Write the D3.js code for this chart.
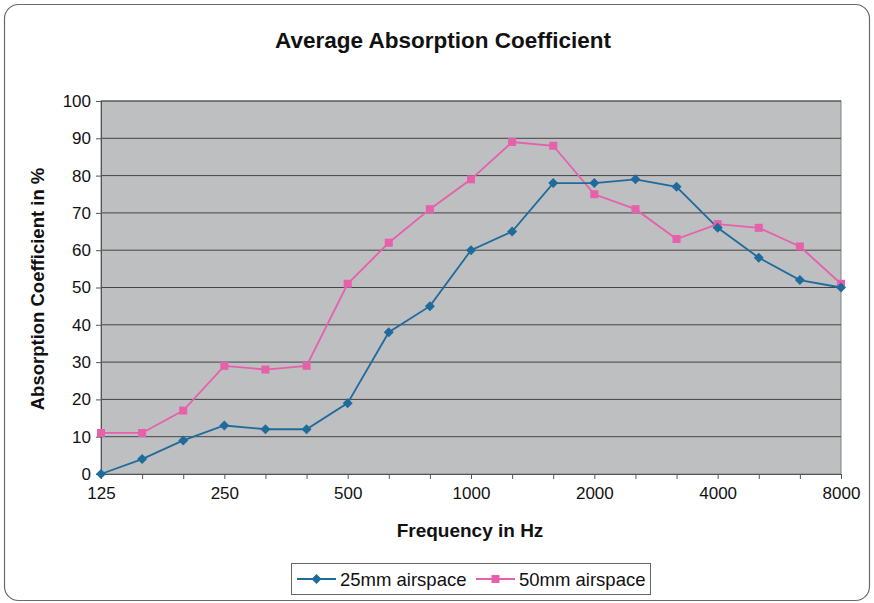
<!DOCTYPE html>
<html><head><meta charset="utf-8">
<script src="https://cdn.jsdelivr.net/npm/d3@7"></script>
<style>body{margin:0;background:#fff;font-family:Arial,"Liberation Sans",sans-serif;}</style>
</head><body><svg id="c" width="874" height="603"></svg>
<script>
const frequencies = ["125","160","200","250","315","400","500","630","800","1000","1250","1600","2000","2500","3150","4000","5000","6300","8000"];
const tickLabels = ["125","250","500","1000","2000","4000","8000"];
const airspace25 = [0,4,9,13,12,12,19,38,45,60,65,78,78,79,77,66,58,52,50];
const airspace50 = [11,11,17,29,28,29,51,62,71,79,89,88,75,71,63,67,66,61,51];
const yTicks = [0,10,20,30,40,50,60,70,80,90,100];

const svg = d3.select("#c");
const F = "Arial,'Liberation Sans',sans-serif";
const L=101,R=841,T=101,B=474;
svg.append("rect").attr("x",4.5).attr("y",4.5).attr("width",865).attr("height",596).attr("rx",14)
  .attr("fill","#fff").attr("stroke","#6a6a6a").attr("stroke-width",1.2);

const x = d3.scalePoint().domain(frequencies).range([L,R]);
const y = d3.scaleLinear().domain([0,100]).range([B,T]);

svg.append("rect").attr("x",L).attr("y",T).attr("width",R-L).attr("height",B-T).attr("fill","#bdbfc0").attr("stroke","#808080");
svg.append("g").selectAll("line").data(yTicks.slice(1)).join("line")
  .attr("x1",L).attr("x2",R).attr("y1",d=>y(d)).attr("y2",d=>y(d)).attr("stroke","#444").attr("stroke-width",1);

const yAxis = d3.axisLeft(y).tickValues(yTicks).tickSize(5).tickPadding(5);
const gy = svg.append("g").attr("transform",`translate(${L},0)`).call(yAxis);
gy.selectAll("text").attr("font-size",17).attr("font-family",F).attr("fill","#111");
gy.selectAll("line,path").attr("stroke","#555");

const xAxis = d3.axisBottom(x).tickSize(5).tickPadding(8).tickFormat(d=>tickLabels.includes(d)?d:"");
const gx = svg.append("g").attr("transform",`translate(0,${B})`).call(xAxis);
gx.selectAll("text").attr("font-size",17).attr("font-family",F).attr("fill","#111");
gx.selectAll("line,path").attr("stroke","#555");

svg.append("text").attr("x",443).attr("y",48).attr("text-anchor","middle").attr("font-weight","bold").attr("font-size",22.5).attr("font-family",F).attr("fill","#111").text("Average Absorption Coefficient");
svg.append("text").attr("x",470).attr("y",537).attr("text-anchor","middle").attr("font-weight","bold").attr("font-size",19).attr("font-family",F).attr("fill","#111").text("Frequency in Hz");
svg.append("text").attr("transform","translate(44,289) rotate(-90)").attr("text-anchor","middle").attr("font-weight","bold").attr("font-size",18.5).attr("font-family",F).attr("fill","#111").text("Absorption Coefficient in %");

const blue="#1f6c9c", pink="#e660ab";
const line = d3.line().x((d,i)=>x(frequencies[i])).y(d=>y(d));
svg.append("path").datum(airspace50).attr("d",line).attr("fill","none").attr("stroke",pink).attr("stroke-width",1.8);
svg.append("path").datum(airspace25).attr("d",line).attr("fill","none").attr("stroke",blue).attr("stroke-width",1.8);
const sq = d3.symbol().type(d3.symbolSquare).size(64);
const di = d3.symbol().type(d3.symbolSquare).size(50);
svg.append("g").selectAll("path").data(airspace50).join("path").attr("d",sq)
  .attr("transform",(d,i)=>`translate(${x(frequencies[i])},${y(d)})`).attr("fill",pink);
svg.append("g").selectAll("path").data(airspace25).join("path").attr("d",di)
  .attr("transform",(d,i)=>`translate(${x(frequencies[i])},${y(d)}) rotate(45)`).attr("fill",blue);

// legend
const lg = svg.append("g");
lg.append("rect").attr("x",291.5).attr("y",563.5).attr("width",359).attr("height",31).attr("fill","#fff").attr("stroke","#666");
const items=[{label:"25mm airspace",color:blue,sym:di,rot:45,x:297},{label:"50mm airspace",color:pink,sym:sq,rot:0,x:476}];
items.forEach(it=>{
  lg.append("line").attr("x1",it.x).attr("x2",it.x+39).attr("y1",579).attr("y2",579).attr("stroke",it.color).attr("stroke-width",1.8);
  lg.append("path").attr("d",it.sym).attr("transform",`translate(${it.x+19.5},579) rotate(${it.rot})`).attr("fill",it.color);
  lg.append("text").attr("x",it.x+43).attr("y",585.5).attr("font-size",18.5).attr("font-family",F).attr("fill","#111").text(it.label);
});
</script></body></html>
